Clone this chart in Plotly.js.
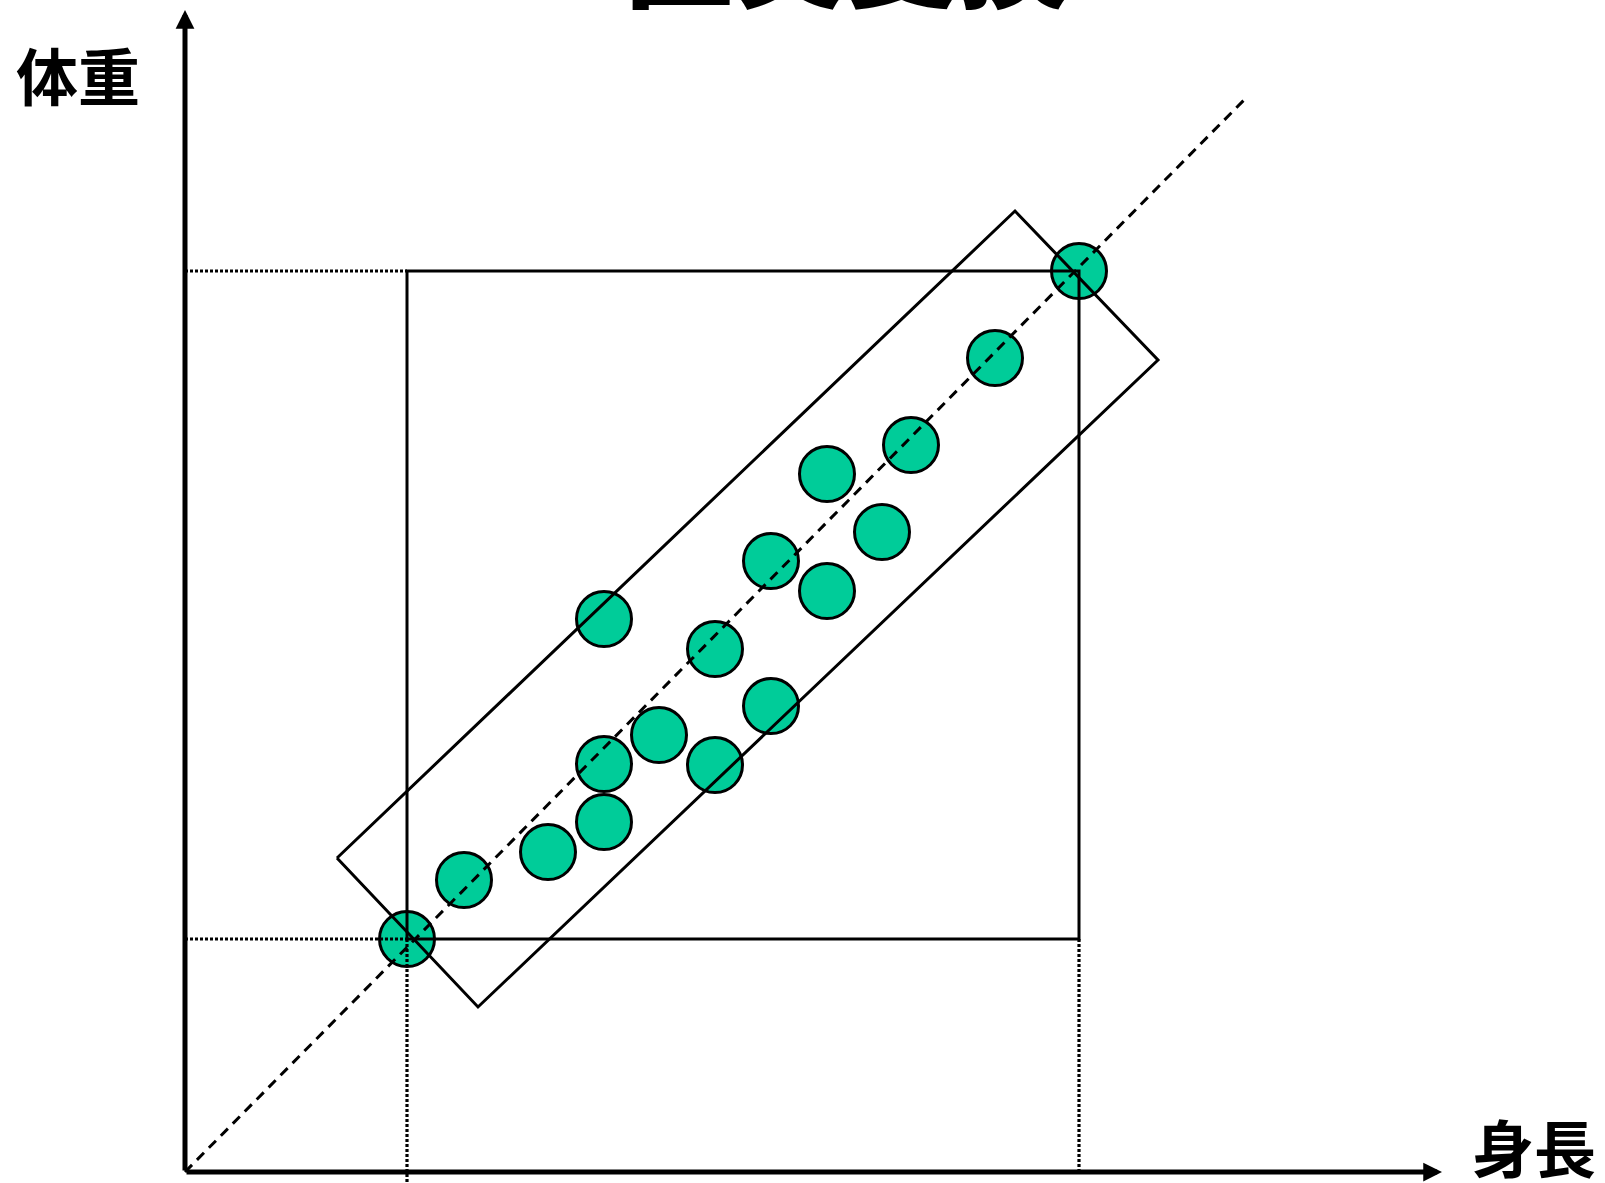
<!DOCTYPE html>
<html>
<head>
<meta charset="utf-8">
<script src="https://cdn.plot.ly/plotly-3.0.1.min.js"></script>
<style>html,body{margin:0;padding:0;background:#fff;}#chart{width:1605px;height:1183px;}</style>
</head>
<body>
<div id="chart"></div>
<script>
// ---- data (arbitrary units: 身長 on x, 体重 on y) ----
const titleText = "直交変換";
const xLabel = "身長";
const yLabel = "体重";
const heightVals = [22.2, 27.9, 36.3, 41.9, 41.9, 47.4, 53.0, 58.6, 53.0, 41.9, 58.6, 64.2, 64.2, 69.7, 72.6, 81.0, 89.4];
const weightVals = [23.3, 29.2, 32.0, 35.0, 40.8, 43.7, 40.7, 46.6, 52.3, 55.3, 61.1, 58.1, 69.8, 64.0, 72.7, 81.4, 90.1];
// rotated (principal-axis) bounding rectangle corners
const rotRectX = [15.2, 83.0, 97.3, 29.3, 15.2];
const rotRectY = [31.4, 96.1, 81.2, 16.5, 31.4];
// principal axis (dashed)
const axisLineX = [0, 105.9];
const axisLineY = [0, 107.2];
// axis arrow ends
const xAxisEnd = 125.7;
const yAxisEnd = 116.2;

// derived
const xMin = Math.min(...heightVals), xMax = Math.max(...heightVals);
const yMin = Math.min(...weightVals), yMax = Math.max(...weightVals);
const xLow = -1.1;

const traces = [
  { // points
    x: heightVals, y: weightVals, type: 'scatter', mode: 'markers',
    marker: { size: 55, color: '#00CC99', line: { color: '#000', width: 3 } },
    hoverinfo: 'skip'
  },
  { // axis-aligned bounding box
    x: [xMin, xMax, xMax, xMin, xMin], y: [yMin, yMin, yMax, yMax, yMin],
    type: 'scatter', mode: 'lines', line: { color: '#000', width: 3 }, hoverinfo: 'skip'
  },
  { // rotated rectangle
    x: rotRectX, y: rotRectY, type: 'scatter', mode: 'lines',
    line: { color: '#000', width: 3 }, hoverinfo: 'skip'
  },
  { // dashed principal axis
    x: axisLineX, y: axisLineY, type: 'scatter', mode: 'lines',
    line: { color: '#000', width: 3, dash: '10px,7px' }, hoverinfo: 'skip'
  },
  { // dotted guides
    x: [0, xMin, null, xMin, xMin, null, 0, xMin, null, xMax, xMax],
    y: [yMin, yMin, null, yMin, xLow, null, yMax, yMax, null, yMin, 0],
    type: 'scatter', mode: 'lines', connectgaps: false,
    line: { color: '#000', width: 3.2, dash: '3px,2px' }, hoverinfo: 'skip'
  }
];

const W = 1605, H = 1183;
const layout = {
  width: W, height: H,
  margin: { l: 0, r: 0, t: 0, b: 0, pad: 0 },
  paper_bgcolor: '#fff', plot_bgcolor: '#fff',
  showlegend: false,
  xaxis: { range: [-18.5, 142.0], visible: false, fixedrange: true },
  yaxis: { range: [-1.1, 117.2], visible: false, fixedrange: true },
  annotations: [
    { // x axis arrow
      x: xAxisEnd, y: 0, ax: 0, ay: 0, xref: 'x', yref: 'y', axref: 'x', ayref: 'y',
      text: '', showarrow: true, arrowhead: 2, arrowsize: 0.75, arrowwidth: 5, arrowcolor: '#000', standoff: 0
    },
    { // y axis arrow
      x: 0, y: yAxisEnd, ax: 0, ay: 0, xref: 'x', yref: 'y', axref: 'x', ayref: 'y',
      text: '', showarrow: true, arrowhead: 2, arrowsize: 0.75, arrowwidth: 5, arrowcolor: '#000', standoff: 0
    },
    {
      text: yLabel, xref: 'paper', yref: 'paper', x: 78 / W, y: 1 - 74 / H,
      xanchor: 'center', yanchor: 'middle', showarrow: false,
      font: { family: 'Noto Sans CJK JP', size: 62, color: '#000', weight: 700 }
    },
    {
      text: xLabel, xref: 'paper', yref: 'paper', x: 1534 / W, y: 1 - 1146 / H,
      xanchor: 'center', yanchor: 'middle', showarrow: false,
      font: { family: 'Noto Sans CJK JP', size: 62, color: '#000', weight: 700 }
    },
    {
      text: titleText, xref: 'paper', yref: 'paper', x: 846 / W, y: 1,
      xanchor: 'center', yanchor: 'bottom', yshift: -33, showarrow: false,
      font: { family: 'Noto Sans CJK JP', size: 112, color: '#000', weight: 900 }
    }
  ]
};

Plotly.newPlot('chart', traces, layout, { displayModeBar: false, staticPlot: true });
</script>
</body>
</html>
